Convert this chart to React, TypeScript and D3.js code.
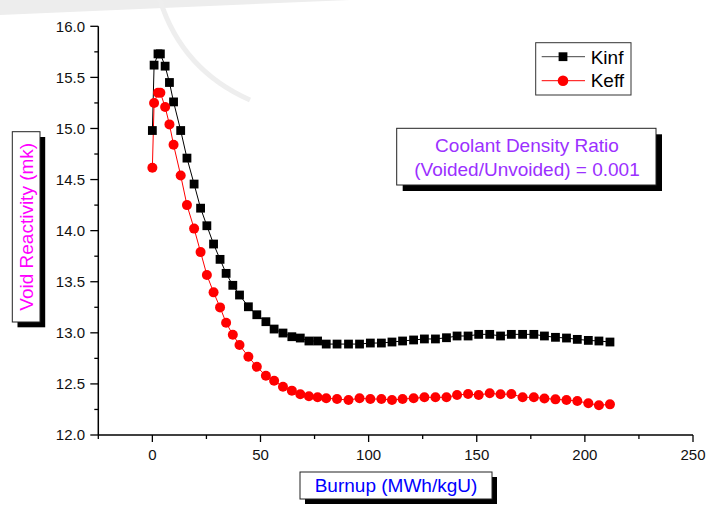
import React from 'react';
import * as d3 from 'd3';

const burnup = [0, 0.8, 2.6, 3.7, 5.9, 7.9, 9.8, 13.1, 16.0, 19.3,
  22.3, 25.2, 28.3, 31.3, 34.1, 37.2, 40.3, 44.4, 48.3, 52.5,
  56.3, 60.4, 64.5, 68.4, 72.4, 76.4, 80.4, 85.4, 90.7, 95.8,
  100.8, 105.9, 110.8, 115.7, 120.8, 125.8, 130.9, 136, 140.9, 146,
  150.9, 156, 161, 166, 171.2, 176.4, 181.3, 186.4, 191.5, 196.5,
  201.6, 206.5, 211.6];

const kinf = [14.98, 15.62, 15.73, 15.73, 15.61, 15.45, 15.26, 14.98, 14.71, 14.456,
  14.22, 14.048, 13.869, 13.719, 13.582, 13.465, 13.37, 13.255, 13.177, 13.109,
  13.037, 12.998, 12.962, 12.949, 12.92, 12.92, 12.89, 12.89, 12.89, 12.89,
  12.9, 12.9, 12.91, 12.92, 12.93, 12.94, 12.94, 12.952, 12.969, 12.969,
  12.985, 12.985, 12.969, 12.985, 12.985, 12.985, 12.969, 12.956, 12.949, 12.936,
  12.926, 12.92, 12.91];

const keff = [14.615, 15.25, 15.35, 15.35, 15.21, 15.04, 14.84, 14.54, 14.25, 14.02,
  13.79, 13.566, 13.396, 13.249, 13.099, 12.981, 12.881, 12.766, 12.668, 12.58,
  12.531, 12.473, 12.434, 12.398, 12.379, 12.369, 12.359, 12.352, 12.342, 12.359,
  12.352, 12.352, 12.342, 12.352, 12.359, 12.369, 12.369, 12.369, 12.391, 12.401,
  12.391, 12.408, 12.398, 12.401, 12.369, 12.369, 12.358, 12.349, 12.342, 12.333,
  12.31, 12.291, 12.30];

const xMajorTicks = [0, 50, 100, 150, 200, 250];
const xMinorTicks = [-25, 25, 75, 125, 175, 225];
const yMajorTicks = [12.0, 12.5, 13.0, 13.5, 14.0, 14.5, 15.0, 15.5, 16.0];
const yMinorTicks = [12.25, 12.75, 13.25, 13.75, 14.25, 14.75, 15.25, 15.75];

const seriesNames = ['Kinf', 'Keff'];
const xTitle = 'Burnup (MWh/kgU)';
const yTitle = 'Void Reactivity (mk)';
const noteLines = ['Coolant Density Ratio', '(Voided/Unvoided) = 0.001'];

const FONT = '"Liberation Sans", Arial, Helvetica, sans-serif';

export default function App() {
  const x = d3.scaleLinear().domain([-25, 250]).range([98.3, 693]);
  const y = d3.scaleLinear().domain([12, 16]).range([435, 26.3]);
  const line = d3.line<number>().x((_, i) => x(burnup[i])).y((d) => y(d));
  const sq = 8.8;
  const r = 5;

  return (
    <svg width={715} height={518} style={{ position: 'absolute', left: 0, top: 0, background: '#fff' }}>
      <rect x={0} y={0} width={715} height={518} fill="#fff" />
      {/* faint watermark remnants */}
      <path d="M0,0 L350,0 L0,15 Z" fill="#ededed" />
      <path d="M160,0 Q182,70 250,100" stroke="#eeeeee" strokeWidth={5} fill="none" />

      {/* axes */}
      <line x1={x(-25)} x2={x(250)} y1={y(12)} y2={y(12)} stroke="#000" strokeWidth={1.5} />
      <line x1={x(-25)} x2={x(-25)} y1={y(12)} y2={y(16)} stroke="#000" strokeWidth={1.5} />
      {xMajorTicks.map((t) => (
        <g key={'xt' + t}>
          <line x1={x(t)} x2={x(t)} y1={y(12)} y2={y(12) + 7} stroke="#000" strokeWidth={1.3} />
          <text x={x(t)} y={460} textAnchor="middle" fontFamily={FONT} fontSize={15} fill="#111">{t}</text>
        </g>
      ))}
      {xMinorTicks.map((t) => (
        <line key={'xm' + t} x1={x(t)} x2={x(t)} y1={y(12)} y2={y(12) + 4} stroke="#000" strokeWidth={1.3} />
      ))}
      {yMajorTicks.map((t) => (
        <g key={'yt' + t}>
          <line x1={x(-25) - 8} x2={x(-25)} y1={y(t)} y2={y(t)} stroke="#000" strokeWidth={1.3} />
          <text x={85} y={y(t) + 5.3} textAnchor="end" fontFamily={FONT} fontSize={15} fill="#111">{t.toFixed(1)}</text>
        </g>
      ))}
      {yMinorTicks.map((t) => (
        <line key={'ym' + t} x1={x(-25) - 4} x2={x(-25)} y1={y(t)} y2={y(t)} stroke="#000" strokeWidth={1.3} />
      ))}

      {/* series lines */}
      <path d={line(kinf) || ''} stroke="#000" strokeWidth={1} fill="none" />
      <path d={line(keff) || ''} stroke="#ff0000" strokeWidth={1} fill="none" />
      {kinf.map((v, i) => (
        <rect key={'k' + i} x={x(burnup[i]) - sq / 2} y={y(v) - sq / 2} width={sq} height={sq} fill="#000" />
      ))}
      {keff.map((v, i) => (
        <circle key={'e' + i} cx={x(burnup[i])} cy={y(v)} r={r} fill="#ff0000" />
      ))}

      {/* legend */}
      <rect x={535.7} y={42.7} width={95.3} height={52.3} fill="#fff" stroke="#333" strokeWidth={1} />
      <line x1={541.7} x2={585} y1={56.7} y2={56.7} stroke="#444" strokeWidth={1} />
      <rect x={563 - sq / 2} y={56.7 - sq / 2} width={sq} height={sq} fill="#000" />
      <text x={590.7} y={63.5} fontFamily={FONT} fontSize={19} fill="#000">{seriesNames[0]}</text>
      <line x1={541.7} x2={585} y1={80.7} y2={80.7} stroke="#ff0000" strokeWidth={1} />
      <circle cx={563} cy={80.7} r={r + 0.3} fill="#ff0000" />
      <text x={590.7} y={87.2} fontFamily={FONT} fontSize={19} fill="#000">{seriesNames[1]}</text>

      {/* note box */}
      <rect x={402.7} y={134.3} width={259.3} height={56.7} fill="#000" />
      <rect x={396.7} y={128.3} width={259.3} height={56.7} fill="#fff" stroke="#222" strokeWidth={1} />
      <text x={527} y={152} textAnchor="middle" fontFamily={FONT} fontSize={19} fill="#9b30ff">{noteLines[0]}</text>
      <text x={527} y={175.5} textAnchor="middle" fontFamily={FONT} fontSize={19} fill="#9b30ff">{noteLines[1]}</text>

      {/* y title box */}
      <rect x={17.5} y={137} width={27.7} height={190.3} fill="#000" />
      <rect x={12.3} y={131.7} width={27.7} height={190.3} fill="#fff" stroke="#222" strokeWidth={1} />
      <text transform={`translate(33,226.8) rotate(-90)`} textAnchor="middle" fontFamily={FONT} fontSize={19} fill="#ff00ff">{yTitle}</text>

      {/* x title box */}
      <rect x={305} y={477} width={192} height={27} fill="#000" />
      <rect x={300} y={472} width={192} height={27} fill="#fff" stroke="#222" strokeWidth={1} />
      <text x={396} y={492} textAnchor="middle" fontFamily={FONT} fontSize={19} fill="#0000ff">{xTitle}</text>
    </svg>
  );
}
